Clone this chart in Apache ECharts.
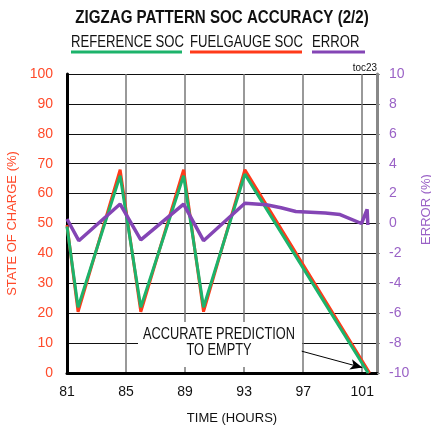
<!DOCTYPE html>
<html>
<head>
<meta charset="utf-8">
<script src="https://cdn.jsdelivr.net/npm/echarts@6/dist/echarts.min.js"></script>
<style>
  html, body { margin: 0; padding: 0; background: #fff; }
  #chart { width: 431px; height: 428px; }
</style>
</head>
<body>
<div id="chart"></div>
<script>
// reference SOC (green)
const refHours = [81, 81.75, 84.6, 86.0, 88.9, 90.25, 93.05, 101.4]
const refSoc = [49, 22, 66, 22, 66, 22, 66.5, 0]

// fuel gauge SOC (red)
const fgHours = [81, 81.75, 84.6, 86.0, 88.9, 90.25, 93.05, 101.5]
const fgSoc = [49.5, 20.5, 68, 20.5, 68, 20.5, 68, 0]

// error (purple, right axis)
const errHours = [81, 81.8, 84.6, 86.0, 88.9, 90.25, 93.05, 94.5, 95.5, 96.5, 98.5, 99.5, 100.95, 101.33, 101.38]
const errValues = [0.3, -1.15, 1.3, -1.1, 1.3, -1.15, 1.35, 1.25, 1.05, 0.8, 0.7, 0.6, 0, 0.95, -0.1]

// arrow of the annotation, in hours / SOC
const arrowFrom = [96.9, 7.3]
const arrowTo = [101.0, 1.8]

const pairs = (xs, ys) => xs.map((x, i) => [x, ys[i]])

// no narrow Arial here, so text is squeezed with scaleX where it can be
const FONT = '"Liberation Sans", Arial, sans-serif'
const GREEN = '#1cb36b'
const RED = '#ff3a1a'
const PURPLE = '#8445b5'
const RED_TXT = '#ff4a2a'
const PURPLE_TXT = '#9a62c6'

const chart = echarts.init(document.getElementById('chart'))

const legendItems = [
  { text: 'REFERENCE SOC', x1: 71, x2: 182, color: GREEN },
  { text: 'FUELGAUGE SOC', x1: 190, x2: 302, color: RED },
  { text: 'ERROR', x1: 312, x2: 365, color: PURPLE }
]

const graphics = [
  {
    type: 'text',
    x: 222,
    y: 18,
    scaleX: 0.84,
    style: {
      text: 'ZIGZAG PATTERN SOC ACCURACY (2/2)',
      font: 'bold 18px ' + FONT,
      fill: '#111',
      align: 'center',
      verticalAlign: 'middle'
    }
  }
]
legendItems.forEach(item => {
  graphics.push({
    type: 'text',
    x: item.x1,
    y: 43,
    scaleX: 0.82,
    style: { text: item.text, font: '16px ' + FONT, fill: '#111', verticalAlign: 'middle' }
  })
  graphics.push({
    type: 'line',
    shape: { x1: item.x1, y1: 52, x2: item.x2, y2: 52 },
    style: { stroke: item.color, lineWidth: 3 }
  })
})
graphics.push({
  type: 'text',
  x: 377,
  y: 68,
  scaleX: 0.9,
  style: { text: 'toc23', font: '11px ' + FONT, fill: '#111', align: 'right', verticalAlign: 'middle' }
})
graphics.push({
  type: 'rect',
  z: 1,
  shape: { x: 138, y: 322, width: 164, height: 45 },
  style: { fill: '#fff' }
})
graphics.push({
  type: 'text',
  z: 1,
  x: 219,
  y: 343,
  scaleX: 0.8,
  style: {
    text: 'ACCURATE PREDICTION\nTO EMPTY',
    font: '16px ' + FONT,
    fill: '#111',
    align: 'center',
    verticalAlign: 'middle',
    lineHeight: 16
  }
})

const option = {
  backgroundColor: '#fff',
  animation: false,
  grid: { left: 67, right: 54, top: 74, bottom: 55, outerBoundsMode: 'none', containLabel: false },
  xAxis: {
    type: 'value',
    min: 81,
    max: 102,
    interval: 4,
    name: 'TIME (HOURS)',
    nameLocation: 'middle',
    nameGap: 39,
    nameTextStyle: { fontFamily: FONT, fontSize: 13, color: '#111', padding: [0, 0, 0, 20] },
    axisLine: { lineStyle: { color: '#000', width: 3 } },
    axisTick: { show: false },
    axisLabel: { fontFamily: FONT, fontSize: 14, color: '#111', margin: 12, showMaxLabel: false },
    splitLine: { show: true, lineStyle: { color: '#777', width: 1.5 } }
  },
  yAxis: [
    {
      type: 'value',
      min: 0,
      max: 100,
      interval: 10,
      name: 'STATE OF CHARGE (%)',
      nameLocation: 'middle',
      nameRotate: 90,
      nameGap: 42,
      nameTextStyle: { fontFamily: FONT, fontSize: 13, color: RED_TXT },
      axisLine: { show: true, lineStyle: { color: '#000', width: 3 } },
      axisTick: { show: false },
      axisLabel: { fontFamily: FONT, fontSize: 14, color: RED_TXT, margin: 14 },
      splitLine: { show: true, lineStyle: { color: '#111', width: 1.2 } }
    },
    {
      type: 'value',
      min: -10,
      max: 10,
      interval: 2,
      position: 'right',
      name: 'ERROR (%)',
      nameLocation: 'middle',
      nameRotate: 90,
      nameGap: 40,
      nameTextStyle: { fontFamily: FONT, fontSize: 13, color: PURPLE_TXT, padding: [0, 0, 0, 28] },
      axisLine: { show: true, lineStyle: { color: '#888', width: 3 } },
      axisTick: { show: true, length: 3, lineStyle: { color: '#888' } },
      axisLabel: { fontFamily: FONT, fontSize: 14, color: PURPLE_TXT, margin: 12 },
      splitLine: { show: false }
    }
  ],
  series: [
    {
      name: 'FUELGAUGE SOC',
      type: 'line',
      yAxisIndex: 0,
      data: pairs(fgHours, fgSoc),
      showSymbol: false,
      lineStyle: { color: RED, width: 3 }
    },
    {
      name: 'REFERENCE SOC',
      type: 'line',
      yAxisIndex: 0,
      data: pairs(refHours, refSoc),
      showSymbol: false,
      lineStyle: { color: GREEN, width: 3 },
      markLine: {
        silent: true,
        symbol: ['none', 'arrow'],
        symbolSize: [8, 12],
        label: { show: false },
        lineStyle: { color: '#000', width: 1, type: 'solid' },
        data: [[{ coord: arrowFrom }, { coord: arrowTo }]]
      }
    },
    {
      name: 'ERROR',
      type: 'line',
      yAxisIndex: 1,
      data: pairs(errHours, errValues),
      showSymbol: false,
      lineStyle: { color: PURPLE, width: 3.5 }
    }
  ],
  graphic: graphics
}

chart.setOption(option)
</script>
</body>
</html>
